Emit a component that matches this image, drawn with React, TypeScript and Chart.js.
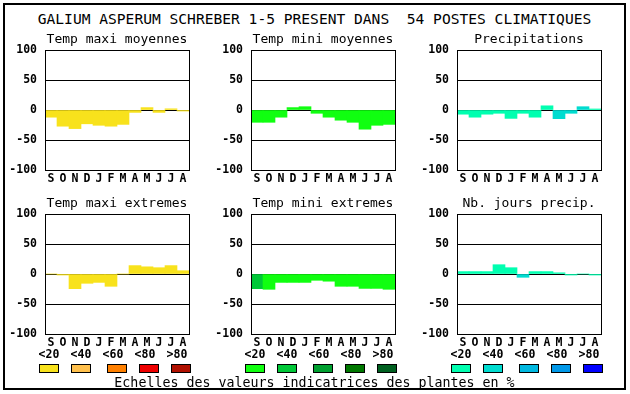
import React, { useEffect, useRef } from 'react';
import { Chart, registerables } from 'chart.js';

Chart.register(...registerables);

const MAIN_TITLE = 'GALIUM ASPERUM SCHREBER 1-5 PRESENT DANS  54 POSTES CLIMATIQUES';
const FOOTER = 'Echelles des valeurs indicatrices des plantes en %';
const MONTHS = ['S', 'O', 'N', 'D', 'J', 'F', 'M', 'A', 'M', 'J', 'J', 'A'];

const TEMP_MAXI_MOY = [-12, -27, -31, -23, -25.5, -27, -24, -4, 4, -4, 2, -1.7];
const TEMP_MINI_MOY = [-20.5, -20.5, -12, 4, 5.5, -5.5, -12, -17, -20.5, -32, -25.5, -24];
const PRECIP = [-7, -12, -7, -5.5, -14, -5.5, -12, 7, -14.5, -5.5, 5.5, 1.7];
const TEMP_MAXI_EXT = [0, -1.7, -24.5, -15.5, -14, -20.5, 0, 14, 12, 10.5, 14, 5.5];
const TEMP_MINI_EXT = [-24.5, -25.5, -14, -14, -14, -10.5, -12, -20.5, -20.5, -24, -24, -25.5];
const NB_JOURS = [4, 4, 4, 15.5, 10.5, -5.5, 4, 4, 2, -1.7, 0, -1.7];

// indicator class (0 = <20, 1 = <40, ...) for each bar
const LVL_MAXI_MOY = [0, 0, 0, 0, 0, 0, 0, 0, 0, 0, 0, 0];
const LVL_MINI_MOY = [0, 0, 0, 0, 0, 0, 0, 0, 0, 0, 0, 0];
const LVL_PRECIP = [0, 0, 0, 0, 0, 0, 0, 0, 1, 1, 1, 0];
const LVL_MAXI_EXT = [0, 0, 0, 0, 0, 0, 0, 0, 0, 0, 0, 0];
const LVL_MINI_EXT = [1, 0, 0, 0, 0, 0, 0, 0, 0, 0, 0, 0];
const LVL_NB_JOURS = [0, 0, 0, 0, 0, 1, 0, 0, 0, 0, 0, 0];

const LEGEND_LABELS = ['<20', '<40', '<60', '<80', '>80'];
const YELLOW = ['#f8e21c', '#ffc04c', '#ff8000', '#ee0000', '#b01000'];
const GREEN = ['#10ff10', '#00c838', '#00a030', '#007800', '#006020'];
const BLUE = ['#00ffb0', '#00dcd0', '#00b8e0', '#0098e8', '#0000ff'];

const MONO = '"DejaVu Sans Mono", "Liberation Mono", monospace';

const framePlugin = {
  id: 'frameBox',
  afterDraw(chart: any) {
    const { ctx, chartArea } = chart;
    ctx.save();
    ctx.strokeStyle = '#000';
    ctx.lineWidth = 1;
    ctx.strokeRect(chartArea.left + 0.5, chartArea.top + 0.5, chartArea.right - chartArea.left, chartArea.bottom - chartArea.top);
    ctx.restore();
  },
};

type PanelProps = {
  title: string;
  values: number[];
  levels: number[];
  palette: string[];
  left: number;
  top: number;
};

function Panel({ title, values, levels, palette, left, top }: PanelProps) {
  const ref = useRef<HTMLCanvasElement>(null);
  useEffect(() => {
    const tickFont = { family: MONO, size: 11.5, weight: 'bold' as const };
    const chart = new Chart(ref.current!, {
      type: 'bar',
      data: {
        labels: MONTHS,
        datasets: [
          {
            data: values,
            backgroundColor: levels.map((l) => palette[l]),
            borderWidth: 0,
            barPercentage: 1,
            categoryPercentage: 1,
          },
        ],
      },
      options: {
        animation: false,
        responsive: false,
        maintainAspectRatio: false,
        devicePixelRatio: 1,
        layout: { padding: { left: 0, right: 4, top: 0, bottom: 0 } },
        plugins: {
          legend: { display: false },
          tooltip: { enabled: false },
          title: {
            display: true,
            text: title,
            fullSize: false,
            color: '#000',
            font: { family: MONO, size: 13, weight: 'normal' },
            padding: { top: 1.5, bottom: 2.9 },
          },
        },
        scales: {
          x: {
            grid: { display: false, drawTicks: false },
            border: { display: false },
            ticks: { color: '#000', font: tickFont, padding: 2, autoSkip: false, maxRotation: 0 },
            afterFit: (s: any) => {
              s.height = 18;
            },
          },
          y: {
            min: -100,
            max: 100,
            z: 1,
            grid: { color: '#000', lineWidth: 1, drawTicks: false },
            border: { display: false },
            ticks: { stepSize: 50, color: '#000', font: tickFont, padding: 8 },
            afterFit: (s: any) => {
              s.width = 45;
            },
          },
        },
      },
      plugins: [framePlugin],
    });
    return () => chart.destroy();
  }, []);
  return (
    <canvas
      ref={ref}
      width={193}
      height={158}
      style={{ position: 'absolute', left, top, width: 193, height: 158 }}
    />
  );
}

const SWATCH_OFFSETS = [0, 32, 68, 100, 132];
const LABEL_OFFSETS = [10, 42, 74, 106, 138];

function LegendGroup({ x, palette }: { x: number; palette: string[] }) {
  return (
    <>
      {LEGEND_LABELS.map((lab, i) => (
        <div
          key={'l' + i}
          style={{
            position: 'absolute',
            left: x + LABEL_OFFSETS[i] - 20,
            width: 40,
            top: 346,
            height: 16,
            lineHeight: '16px',
            textAlign: 'center',
            fontFamily: MONO,
            fontWeight: 'bold',
            fontSize: 11.5,
            color: '#000',
          }}
        >
          {lab}
        </div>
      ))}
      {palette.map((c, i) => (
        <div
          key={'s' + i}
          style={{
            position: 'absolute',
            left: x + SWATCH_OFFSETS[i],
            top: 364,
            width: 18,
            height: 7,
            background: c,
            border: '1px solid #000',
          }}
        />
      ))}
    </>
  );
}

export default function App() {
  return (
    <div
      style={{
        position: 'fixed',
        left: 0,
        top: 0,
        width: 630,
        height: 394,
        background: '#fff',
        overflow: 'hidden',
      }}
    >
      <div
        style={{
          position: 'absolute',
          left: 3,
          top: 3,
          width: 619,
          height: 383,
          border: '2px solid #000',
        }}
      />
      <div
        style={{
          position: 'absolute',
          left: 0,
          top: 10,
          width: 629,
          height: 18,
          lineHeight: '18px',
          textAlign: 'center',
          whiteSpace: 'pre',
          fontFamily: MONO,
          fontSize: 14.6,
          color: '#000',
        }}
      >
        {MAIN_TITLE}
      </div>
      <Panel title="Temp maxi moyennes" values={TEMP_MAXI_MOY} levels={LVL_MAXI_MOY} palette={YELLOW} left={0} top={30} />
      <Panel title="Temp mini moyennes" values={TEMP_MINI_MOY} levels={LVL_MINI_MOY} palette={GREEN} left={206} top={30} />
      <Panel title="Precipitations" values={PRECIP} levels={LVL_PRECIP} palette={BLUE} left={412} top={30} />
      <Panel title="Temp maxi extremes" values={TEMP_MAXI_EXT} levels={LVL_MAXI_EXT} palette={YELLOW} left={0} top={194} />
      <Panel title="Temp mini extremes" values={TEMP_MINI_EXT} levels={LVL_MINI_EXT} palette={GREEN} left={206} top={194} />
      <Panel title="Nb. jours precip." values={NB_JOURS} levels={LVL_NB_JOURS} palette={BLUE} left={412} top={194} />
      <LegendGroup x={39} palette={YELLOW} />
      <LegendGroup x={245} palette={GREEN} />
      <LegendGroup x={451} palette={BLUE} />
      <div
        style={{
          position: 'absolute',
          left: 0,
          top: 375,
          width: 629,
          height: 16,
          lineHeight: '16px',
          textAlign: 'center',
          whiteSpace: 'pre',
          fontFamily: MONO,
          fontSize: 13.3,
          color: '#000',
        }}
      >
        {FOOTER}
      </div>
    </div>
  );
}
